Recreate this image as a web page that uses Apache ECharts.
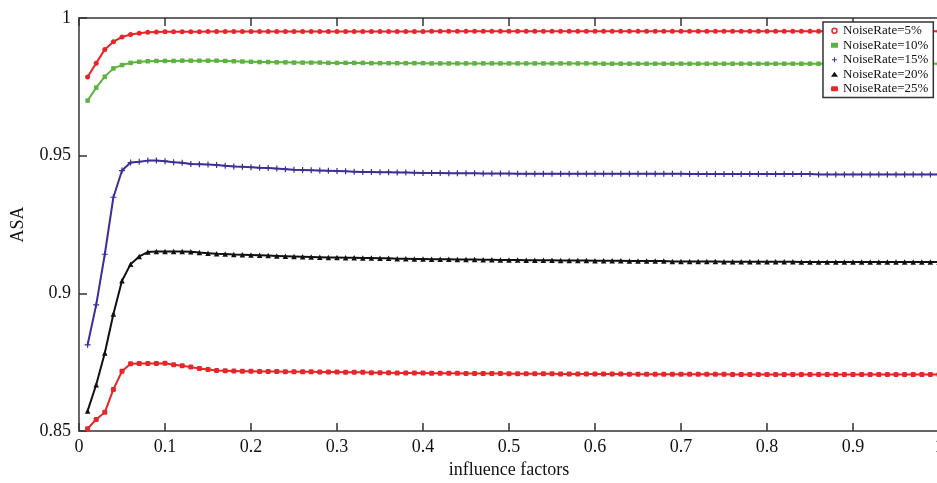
<!DOCTYPE html>
<html>
<head>
<meta charset="utf-8">
<script src="https://cdn.jsdelivr.net/npm/echarts@6/dist/echarts.min.js"></script>
<style>
html,body{margin:0;padding:0;background:#fff;}
#chart{width:937px;height:483px;}
</style>
</head>
<body>
<div id="chart"></div>
<script>
// x values: influence factors 0.01 .. 1.00
var xValues = [0.01,0.02,0.03,0.04,0.05,0.06,0.07,0.08,0.09,0.10,
0.11,0.12,0.13,0.14,0.15,0.16,0.17,0.18,0.19,0.20,
0.21,0.22,0.23,0.24,0.25,0.26,0.27,0.28,0.29,0.30,
0.31,0.32,0.33,0.34,0.35,0.36,0.37,0.38,0.39,0.40,
0.41,0.42,0.43,0.44,0.45,0.46,0.47,0.48,0.49,0.50,
0.51,0.52,0.53,0.54,0.55,0.56,0.57,0.58,0.59,0.60,
0.61,0.62,0.63,0.64,0.65,0.66,0.67,0.68,0.69,0.70,
0.71,0.72,0.73,0.74,0.75,0.76,0.77,0.78,0.79,0.80,
0.81,0.82,0.83,0.84,0.85,0.86,0.87,0.88,0.89,0.90,
0.91,0.92,0.93,0.94,0.95,0.96,0.97,0.98,0.99,1.00];

var seriesNames = ['NoiseRate=5%','NoiseRate=10%','NoiseRate=15%','NoiseRate=20%','NoiseRate=25%'];

var noise5 = [0.9786,0.9836,0.9886,0.9914,0.9931,0.9940,0.9945,0.9948,0.9949,0.9950,
0.9950,0.9950,0.9950,0.9950,0.9951,0.9951,0.9951,0.9951,0.9951,0.9951,
0.9951,0.9951,0.9951,0.9951,0.9951,0.9951,0.9951,0.9951,0.9951,0.9951,
0.9951,0.9951,0.9951,0.9951,0.9951,0.9951,0.9951,0.9951,0.9951,0.9951,
0.9952,0.9952,0.9952,0.9952,0.9952,0.9952,0.9952,0.9952,0.9952,0.9952,
0.9952,0.9952,0.9952,0.9952,0.9952,0.9952,0.9952,0.9952,0.9952,0.9952,
0.9952,0.9952,0.9952,0.9952,0.9952,0.9952,0.9952,0.9952,0.9952,0.9952,
0.9952,0.9952,0.9952,0.9952,0.9952,0.9952,0.9952,0.9952,0.9952,0.9952,
0.9952,0.9952,0.9952,0.9952,0.9952,0.9952,0.9952,0.9952,0.9952,0.9952,
0.9952,0.9952,0.9952,0.9952,0.9952,0.9952,0.9952,0.9952,0.9952,0.9952];

var noise10 = [0.9700,0.9747,0.9787,0.9817,0.9829,0.9837,0.9841,0.9843,0.9844,0.9844,
0.9844,0.9845,0.9845,0.9845,0.9845,0.9845,0.9844,0.9843,0.9842,0.9841,
0.9840,0.9840,0.9839,0.9839,0.9838,0.9838,0.9838,0.9838,0.9837,0.9837,
0.9837,0.9837,0.9837,0.9836,0.9836,0.9836,0.9836,0.9836,0.9836,0.9836,
0.9835,0.9835,0.9835,0.9835,0.9835,0.9835,0.9835,0.9835,0.9835,0.9835,
0.9835,0.9835,0.9835,0.9835,0.9835,0.9835,0.9835,0.9835,0.9835,0.9835,
0.9834,0.9834,0.9834,0.9834,0.9834,0.9834,0.9834,0.9834,0.9834,0.9834,
0.9834,0.9834,0.9834,0.9834,0.9834,0.9834,0.9834,0.9834,0.9834,0.9834,
0.9834,0.9834,0.9834,0.9834,0.9834,0.9834,0.9834,0.9834,0.9834,0.9834,
0.9834,0.9834,0.9834,0.9834,0.9834,0.9834,0.9834,0.9834,0.9834,0.9834];

var noise15 = [0.8813,0.8958,0.9142,0.9349,0.9446,0.9475,0.9478,0.9482,0.9482,0.9480,
0.9476,0.9474,0.9470,0.9469,0.9468,0.9466,0.9463,0.9461,0.9460,0.9458,
0.9456,0.9455,0.9453,0.9451,0.9449,0.9448,0.9447,0.9446,0.9445,0.9444,
0.9443,0.9442,0.9441,0.9441,0.9440,0.9440,0.9439,0.9439,0.9438,0.9437,
0.9437,0.9437,0.9436,0.9436,0.9436,0.9436,0.9435,0.9435,0.9435,0.9435,
0.9434,0.9434,0.9434,0.9434,0.9434,0.9434,0.9434,0.9434,0.9434,0.9434,
0.9434,0.9434,0.9434,0.9434,0.9434,0.9434,0.9434,0.9434,0.9434,0.9434,
0.9433,0.9433,0.9433,0.9433,0.9433,0.9433,0.9433,0.9433,0.9433,0.9433,
0.9433,0.9433,0.9433,0.9433,0.9433,0.9432,0.9432,0.9432,0.9432,0.9432,
0.9432,0.9432,0.9432,0.9432,0.9432,0.9432,0.9432,0.9432,0.9432,0.9432];

var noise20 = [0.8573,0.8668,0.8783,0.8925,0.9046,0.9106,0.9134,0.9150,0.9152,0.9152,
0.9152,0.9152,0.9151,0.9148,0.9146,0.9144,0.9143,0.9141,0.9140,0.9139,
0.9138,0.9137,0.9136,0.9135,0.9134,0.9133,0.9132,0.9131,0.9130,0.9130,
0.9129,0.9129,0.9128,0.9128,0.9127,0.9127,0.9126,0.9126,0.9125,0.9125,
0.9124,0.9124,0.9124,0.9123,0.9123,0.9123,0.9122,0.9122,0.9121,0.9121,
0.9121,0.9120,0.9120,0.9120,0.9120,0.9119,0.9119,0.9119,0.9119,0.9118,
0.9118,0.9118,0.9118,0.9117,0.9117,0.9117,0.9117,0.9117,0.9116,0.9116,
0.9116,0.9116,0.9116,0.9116,0.9115,0.9115,0.9115,0.9115,0.9115,0.9115,
0.9115,0.9115,0.9115,0.9114,0.9114,0.9114,0.9114,0.9114,0.9114,0.9114,
0.9114,0.9114,0.9114,0.9114,0.9114,0.9114,0.9114,0.9114,0.9114,0.9114];

var noise25 = [0.8508,0.8542,0.8568,0.8651,0.8717,0.8744,0.8745,0.8745,0.8745,0.8746,
0.8741,0.8737,0.8732,0.8727,0.8723,0.8720,0.8719,0.8718,0.8717,0.8717,
0.8716,0.8716,0.8716,0.8715,0.8715,0.8715,0.8715,0.8714,0.8714,0.8714,
0.8713,0.8713,0.8713,0.8712,0.8712,0.8712,0.8711,0.8711,0.8711,0.8711,
0.8710,0.8710,0.8710,0.8710,0.8709,0.8709,0.8709,0.8709,0.8709,0.8708,
0.8708,0.8708,0.8708,0.8708,0.8708,0.8707,0.8707,0.8707,0.8707,0.8707,
0.8707,0.8707,0.8707,0.8706,0.8706,0.8706,0.8706,0.8706,0.8706,0.8706,
0.8706,0.8706,0.8706,0.8706,0.8706,0.8705,0.8705,0.8705,0.8705,0.8705,
0.8705,0.8705,0.8705,0.8705,0.8705,0.8705,0.8705,0.8705,0.8705,0.8705,
0.8705,0.8705,0.8705,0.8705,0.8705,0.8705,0.8705,0.8705,0.8705,0.8705];

var seriesValues = [noise5, noise10, noise15, noise20, noise25];
var colors = ['#e8262a', '#5db33f', '#3b2f97', '#111111', '#e8262a'];
var plusPath = 'path://M4,0 L6,0 L6,4 L10,4 L10,6 L6,6 L6,10 L4,10 L4,6 L0,6 L0,4 L4,4 Z';
var symbols = ['circle', 'rect', plusPath, 'triangle', 'roundRect'];
var symbolSizes = [5, 4.5, 6, 5.5, 5];

function pairs(vals) {
  return xValues.map(function (x, i) { return [x, vals[i]]; });
}

var FONT = '"Liberation Serif", "DejaVu Serif", serif';

var series = seriesNames.map(function (name, k) {
  return {
    name: name,
    type: 'line',
    data: pairs(seriesValues[k]),
    symbol: symbols[k],
    symbolSize: symbolSizes[k],
    showSymbol: true,
    animation: false,
    lineStyle: { color: colors[k], width: 2 },
    itemStyle: { color: colors[k] },
    z: 2
  };
});

var chart = echarts.init(document.getElementById('chart'), null, { renderer: 'canvas' });
chart.setOption({
  backgroundColor: '#ffffff',
  animation: false,
  grid: { left: 79, top: 18, width: 860, height: 413, containLabel: false, outerBoundsMode: 'none' },
  legend: {
    orient: 'vertical',
    left: 823,
    top: 22,
    padding: [2, 5, 2, 8],
    itemGap: 1,
    itemWidth: 7,
    itemHeight: 5,
    backgroundColor: '#ffffff',
    borderColor: '#333',
    borderWidth: 1.5,
    textStyle: { fontFamily: FONT, fontSize: 13, lineHeight: 13.5, color: '#111', padding: [0, 0, 0, 0] },
    data: seriesNames.map(function (n, k) {
      return { name: n, icon: k === 0 ? 'circle' : symbols[k], itemStyle: k === 0 ? { color: '#fff', borderColor: colors[0], borderWidth: 1.5 } : { color: colors[k] } };
    })
  },
  xAxis: [{
    type: 'value',
    min: 0, max: 1, interval: 0.1,
    position: 'bottom',
    name: 'influence factors',
    nameLocation: 'middle',
    nameGap: 30,
    nameTextStyle: { fontFamily: FONT, fontSize: 18, color: '#111' },
    axisLine: { show: true, lineStyle: { color: '#333', width: 1.5 } },
    axisTick: { show: true, inside: true, length: 8, lineStyle: { color: '#333', width: 1.5 } },
    axisLabel: { fontFamily: FONT, fontSize: 18, color: '#111', margin: 7 },
    splitLine: { show: false }
  }, {
    type: 'value',
    min: 0, max: 1, interval: 0.1,
    position: 'top',
    axisLine: { show: true, lineStyle: { color: '#333', width: 1.5 } },
    axisTick: { show: true, inside: true, length: 8, lineStyle: { color: '#333', width: 1.5 } },
    axisLabel: { show: false },
    splitLine: { show: false }
  }],
  yAxis: {
    type: 'value',
    min: 0.85, max: 1, interval: 0.05,
    name: 'ASA',
    nameLocation: 'middle',
    nameGap: 52,
    nameRotate: 90,
    nameTextStyle: { fontFamily: FONT, fontSize: 18, color: '#111' },
    axisLine: { show: true, onZero: false, lineStyle: { color: '#333', width: 1.5 } },
    axisTick: { show: true, inside: true, length: 8, lineStyle: { color: '#333', width: 1.5 } },
    axisLabel: { fontFamily: FONT, fontSize: 18, color: '#111', margin: 8 },
    splitLine: { show: false }
  },
  series: series
});
</script>
</body>
</html>
